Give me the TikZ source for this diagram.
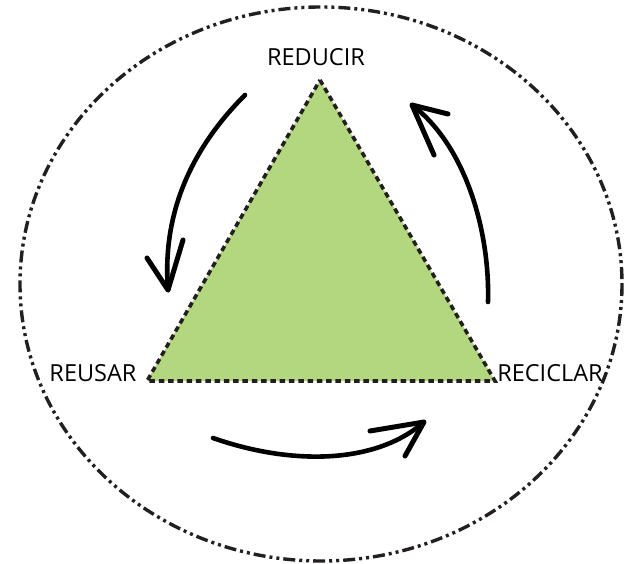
\documentclass[tikz,border=0pt]{standalone}
\usepackage{fontspec}
\setmainfont{Open Sans}
\definecolor{tri}{RGB}{178,215,127}
\definecolor{ink}{RGB}{35,31,32}
\begin{document}
\begin{tikzpicture}[x=1pt,y=-1pt,
  lbl/.style={font=\fontsize{23.5}{23.5}\selectfont, inner sep=0pt, text=black},
  shaft/.style={draw=black, line width=4.6, line cap=round},
  barb/.style={draw=black, line width=5, line cap=round, line join=round}]
\useasboundingbox (0,0) rectangle (624,564);
% outer ellipse
\draw[ink, line width=3.4, dash pattern=on 12 off 4 on 3 off 4 on 3 off 4]
  (321,284) ellipse [x radius=301, y radius=277];
% triangle
\coordinate (top) at (320,80);
\coordinate (bl) at (147,381);
\coordinate (br) at (495,381);
\filldraw[fill=tri, draw=ink, line width=3.6, dash pattern=on 5.5 off 3.8]
  (top) -- (br) -- (bl) -- cycle;
% labels
\node[lbl] (reducir) at (316,57) {REDUCIR};
\node[lbl] (reusar) at (93,373) {REUSAR};
\node[lbl] (reciclar) at (550,373) {RECICLAR};
% arrow 1
\coordinate (a1s) at (245,95);
\coordinate (a1t) at (168,290);
\coordinate (a1l) at (147,258);
\coordinate (a1r) at (183,240);
\draw[shaft] (a1s) .. controls (190,150) and (162,215) .. (a1t);
\draw[barb] (a1l) -- (a1t) -- (a1r);
% arrow 2
\coordinate (a2s) at (488,302);
\coordinate (a2t) at (412,105);
\coordinate (a2l) at (448,114);
\coordinate (a2r) at (434,155);
\draw[shaft] (a2s) .. controls (490,230) and (465,145) .. (a2t);
\draw[barb] (a2l) -- (a2t) -- (a2r);
% arrow 3
\coordinate (a3s) at (213,438);
\coordinate (a3t) at (424,422);
\coordinate (a3l) at (370,431);
\coordinate (a3r) at (405,456);
\draw[shaft] (a3s) .. controls (290,465) and (375,465) .. (a3t);
\draw[barb] (a3l) -- (a3t) -- (a3r);
\end{tikzpicture}
\end{document}
